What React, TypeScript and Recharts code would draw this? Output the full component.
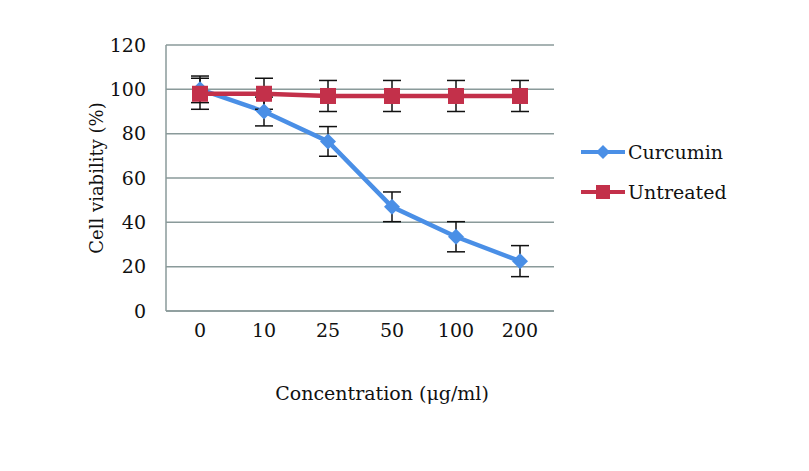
import React from 'react';
import { LineChart, Line, XAxis, YAxis, CartesianGrid, ErrorBar, Label } from 'recharts';

const categories = ['0', '10', '25', '50', '100', '200'];
const curcumin = [100, 90, 76.5, 47, 33.5, 22.5];
const curcuminErr = [6, 6.5, 6.7, 6.7, 6.8, 7];
const untreated = [98, 98, 97, 97, 97, 97];
const untreatedErr = [7, 7, 7, 7, 7, 7];
const yTicks = [0, 20, 40, 60, 80, 100, 120];

const data = categories.map((c, i) => ({
  conc: c,
  curcumin: curcumin[i],
  curcuminErr: curcuminErr[i],
  untreated: untreated[i],
  untreatedErr: untreatedErr[i],
}));

const BLUE = '#4A8FE6';
const RED = '#C3304A';
const GRID = '#8A9A9A';
const FONT = '"DejaVu Serif", "Liberation Serif", serif';

const Diamond = (props: any) => {
  const { cx, cy } = props;
  if (cx == null || cy == null) return null;
  const r = 8;
  return <polygon points={`${cx},${cy - r} ${cx + r},${cy} ${cx},${cy + r} ${cx - r},${cy}`} fill={BLUE} />;
};

const Square = (props: any) => {
  const { cx, cy } = props;
  if (cx == null || cy == null) return null;
  const s = 16;
  return <rect x={cx - s / 2} y={cy - s / 2} width={s} height={s} fill={RED} />;
};

const legendItems = [
  { name: 'Curcumin', color: BLUE, shape: 'diamond' },
  { name: 'Untreated', color: RED, shape: 'square' },
];

const LegendBox = () => (
  <div
    style={{
      position: 'absolute',
      left: 580,
      top: 132,
      fontFamily: FONT,
      fontSize: 19,
      color: '#111',
    }}
  >
    {legendItems.map((it) => (
      <div key={it.name} style={{ display: 'flex', alignItems: 'center', height: 40 }}>
        <svg width={46} height={20} style={{ marginRight: 2 }}>
          <line x1={1} y1={10} x2={45} y2={10} stroke={it.color} strokeWidth={4} />
          {it.shape === 'diamond' ? (
            <polygon points="23,3 30,10 23,17 16,10" fill={it.color} />
          ) : (
            <rect x={16} y={3} width={14} height={14} fill={it.color} />
          )}
        </svg>
        <span>{it.name}</span>
      </div>
    ))}
  </div>
);

export default function App() {
  return (
    <div style={{ position: 'absolute', left: 0, top: 0, width: 809, height: 471, background: '#fff' }}>
      <LineChart
        width={809}
        height={471}
        data={data}
        margin={{ top: 45, right: 255, bottom: 100, left: 0 }}
      >
        <CartesianGrid vertical={false} stroke={GRID} strokeWidth={1.5} />
        <XAxis
          dataKey="conc"
          height={60}
          padding={{ left: 34, right: 34 }}
          tickLine={false}
          tickSize={0}
          tickMargin={13}
          axisLine={{ stroke: GRID, strokeWidth: 1.5 }}
          tick={{ fontFamily: FONT, fontSize: 19, fill: '#111' }}
        >
          <Label
            value="Concentration (μg/ml)"
            position="insideBottom"
            offset={-29}
            dx={22}
            style={{ fontFamily: FONT, fontSize: 19, fill: '#111' }}
          />
        </XAxis>
        <YAxis
          width={166}
          domain={[0, 120]}
          ticks={yTicks}
          interval={0}
          tickLine={false}
          tickSize={0}
          tickMargin={20}
          axisLine={{ stroke: GRID, strokeWidth: 1.5 }}
          tick={{ fontFamily: FONT, fontSize: 19, fill: '#111' }}
        >
          <Label
            value="Cell viability (%)"
            angle={-90}
            position="center"
            dx={14}
            style={{ fontFamily: FONT, fontSize: 18, fill: '#111', textAnchor: 'middle' }}
          />
        </YAxis>
        <Line
          type="linear"
          dataKey="curcumin"
          name="Curcumin"
          stroke={BLUE}
          strokeWidth={4.5}
          dot={<Diamond />}
          activeDot={false}
          isAnimationActive={false}
        >
          <ErrorBar dataKey="curcuminErr" width={9} stroke="#111" strokeWidth={1.5} direction="y" />
        </Line>
        <Line
          type="linear"
          dataKey="untreated"
          name="Untreated"
          stroke={RED}
          strokeWidth={4.5}
          dot={<Square />}
          activeDot={false}
          isAnimationActive={false}
        >
          <ErrorBar dataKey="untreatedErr" width={9} stroke="#111" strokeWidth={1.5} direction="y" />
        </Line>
      </LineChart>
      <LegendBox />
    </div>
  );
}
